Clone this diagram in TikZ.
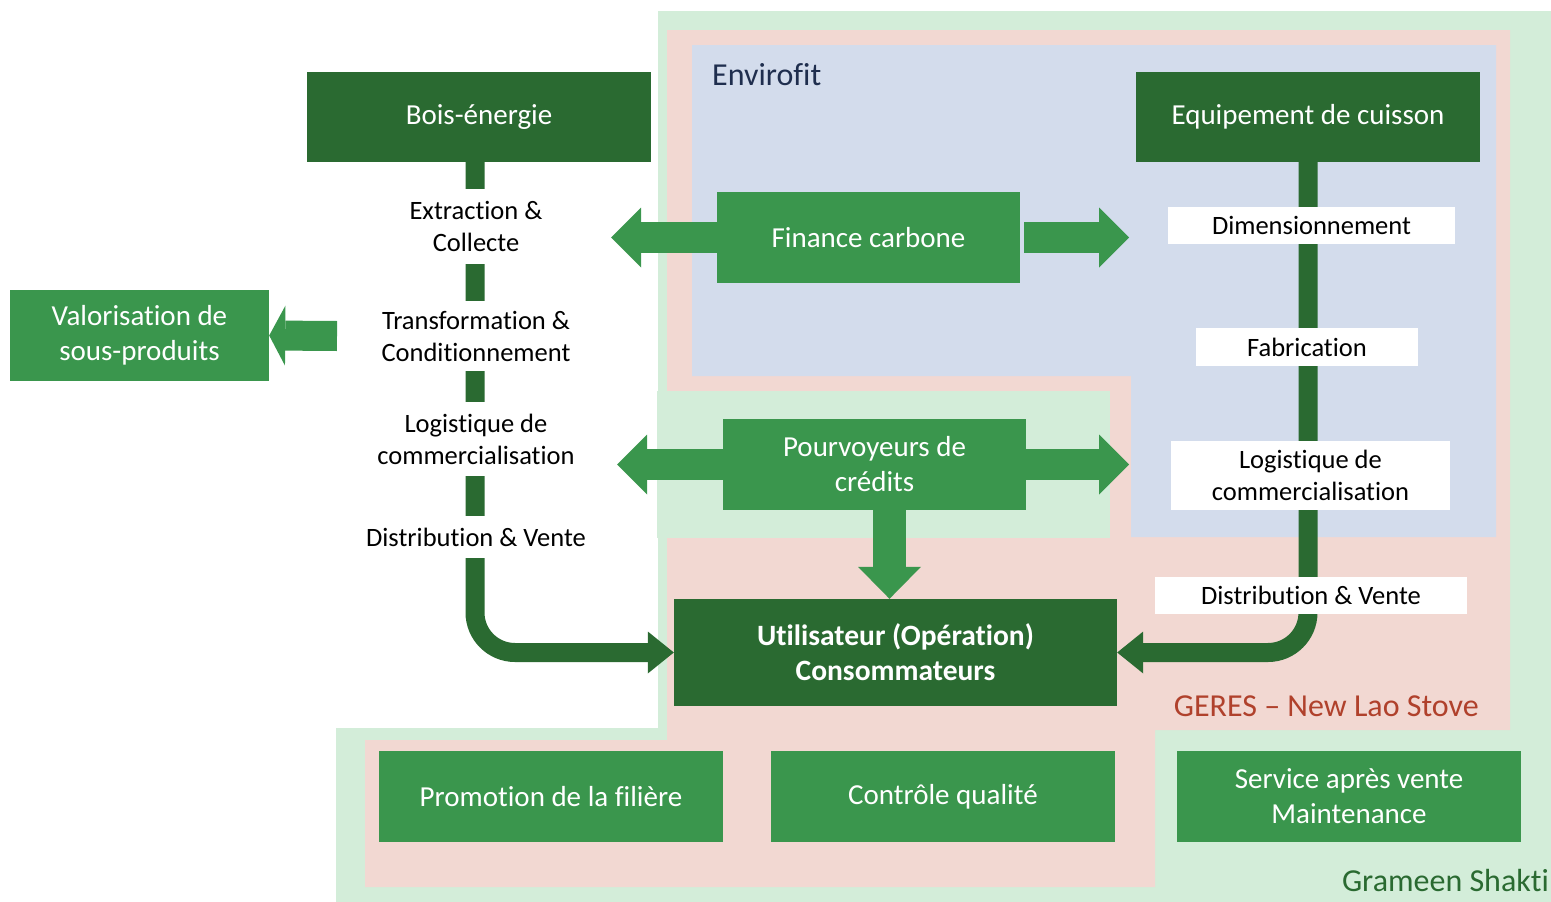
\documentclass[tikz,border=0pt]{standalone}
\usepackage{fontspec}
\setmainfont[Ligatures=NoCommon]{Carlito}
\usetikzlibrary{arrows.meta}
\definecolor{darkgrn}{HTML}{2A6A31}
\definecolor{midgrn}{HTML}{3A964D}
\definecolor{lightgrn}{HTML}{D3EDD9}
\definecolor{pinkbg}{HTML}{F2D8D2}
\definecolor{bluebg}{HTML}{D3DCEC}
\definecolor{navy}{HTML}{1F2E4E}
\definecolor{rust}{HTML}{B0412C}
\tikzset{
 mainbox/.style={fill=darkgrn,text=white,minimum width=344pt,minimum height=90pt,align=center,inner sep=0pt,font=\fontsize{29}{35}\selectfont},
 actbox/.style={mainbox,fill=midgrn,minimum height=91pt},
 stagebox/.style={fill=white,align=center,inner sep=0pt,font=\fontsize{26.5}{32}\selectfont},
 chain/.style={line width=19pt,darkgrn,rounded corners=40pt,-{Triangle[length=26pt,width=42pt,line width=0pt]}},
 blockarrow/.style={line width=31pt,midgrn,-{Triangle[length=30pt,width=60pt,line width=0pt]}},
 zonelabel/.style={inner sep=0pt,font=\fontsize{32}{38}\selectfont},
}
\begin{document}
\begin{tikzpicture}[x=1pt,y=-1pt]
 \useasboundingbox (0,0) rectangle (1551,902);
 \fill[lightgrn] (658,11) -- (1551,11) -- (1551,902) -- (336,902) -- (336,728) -- (658,728) -- cycle;
 \fill[pinkbg] (667,30) -- (1510,30) -- (1510,730) -- (1155,730) -- (1155,887) -- (365,887) -- (365,740) -- (667,740) -- cycle;
 \fill[lightgrn] (657,391) rectangle (1110,538);
 \fill[bluebg] (692,45) -- (1496,45) -- (1496,537) -- (1131,537) -- (1131,376) -- (692,376) -- cycle;
 \node[zonelabel,text=navy,anchor=west] (envirofit) at (712,75) {Envirofit};
 \node[zonelabel,text=rust,anchor=east] (geres) at (1479,706) {GERES -- New Lao Stove};
 \node[zonelabel,text=darkgrn,anchor=east] (grameen) at (1549,880) {Grameen Shakti};

 \node[mainbox] (bois) at (479,117) {Bois-énergie};
 \node[mainbox] (equip) at (1308,117) {Equipement de cuisson};
 \node[actbox,minimum width=303pt] (fin) at (868.5,237.5) {Finance carbone};
 \node[actbox,minimum width=259pt] (valo) at (139.5,335.5) {Valorisation de\\sous-produits};
 \node[actbox,minimum width=303pt] (pour) at (874.5,464.5) {Pourvoyeurs de\\crédits};
 \node[mainbox,minimum width=443pt,minimum height=107pt,font=\fontsize{29.5}{35}\selectfont\bfseries] (util) at (895.5,652.5) {Utilisateur (Opération)\\Consommateurs};
 \node[actbox] (promo) at (551,796.5) {Promotion de la filière};
 \node[actbox] (qual) at (943,796.5) {Contrôle qualité};
 \node[actbox] (sav) at (1349,796.5) {Service après vente\\Maintenance};

 \draw[chain] ([xshift=-4pt]bois.south) |- (util.west);
 \draw[chain] (equip.south) |- (util.east);

 \node[stagebox,minimum height=75pt] (extr) at (476,226.5) {Extraction \&\\Collecte};
 \node[stagebox,minimum height=70pt] (transf) at (476,336) {Transformation \&\\Conditionnement};
 \node[stagebox,minimum height=74pt] (logi) at (476,439) {Logistique de\\commercialisation};
 \node[stagebox,minimum height=42pt] (distr) at (476,537) {Distribution \& Vente};
 \node[stagebox,minimum width=287pt,minimum height=37pt] (dim) at (1311.5,225.5) {Dimensionnement};
 \node[stagebox,minimum width=222pt,minimum height=38pt] (fab) at (1307,347) {Fabrication};
 \node[stagebox,minimum width=279pt,minimum height=69pt] (logr) at (1310.5,475.5) {Logistique de\\commercialisation};
 \node[stagebox,minimum width=312pt,minimum height=37pt] (distrr) at (1311,595.5) {Distribution \& Vente};

 \coordinate (fin-l) at (611,237.5);
 \coordinate (fin-r) at (1129,237.5);
 \coordinate (pour-l) at (617,464.5);
 \coordinate (pour-r) at (1129,464.5);
 \coordinate (valo-t) at (337,336);
 \draw[blockarrow] (fin.west) -- (fin-l);
 \draw[blockarrow] ([xshift=4pt]fin.east) -- (fin-r);
 \draw[blockarrow] (pour.west) -- (pour-l);
 \draw[blockarrow] (pour.east) -- (pour-r);
 \draw[blockarrow,line width=33pt,-{Triangle[length=32pt,width=63pt,line width=0pt]}] ([xshift=15pt]pour.south) -- ([xshift=15pt]pour.south |- util.north);
 \draw[blockarrow,line width=30pt,-{Triangle[length=16pt,width=60pt,line width=0pt]}] (valo-t) -- (valo.east);
\end{tikzpicture}
\end{document}
